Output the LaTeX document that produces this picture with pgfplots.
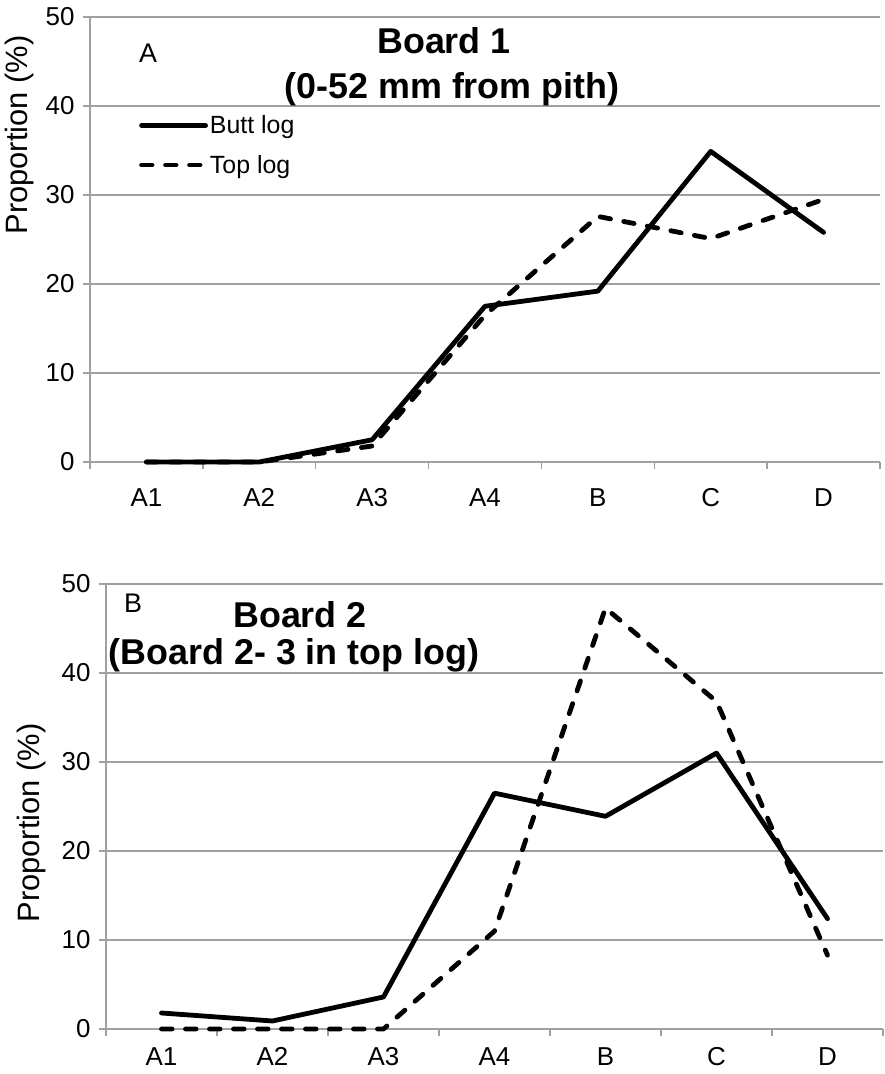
\documentclass[border=0pt]{standalone}
\usepackage{fontspec}
\setmainfont{Liberation Sans}
\usepackage{pgfplots}
\pgfplotsset{compat=1.18}
\definecolor{gridgray}{RGB}{160,160,160}

\pgfplotsset{
  boardaxis/.style={
    scale only axis,
    height=445bp,
    xmin=-0.5, xmax=6.5,
    ymin=0, ymax=50,
    xtick={0,1,2,3,4,5,6},
    xticklabels={A1,A2,A3,A4,B,C,D},
    minor xtick={-0.5,0.5,...,6.5},
    ytick={0,10,20,30,40,50},
    ymajorgrids=true,
    grid style={draw=gridgray, line width=1.3bp},
    axis x line*=bottom,
    axis y line*=left,
    axis line style={draw=gridgray, line width=1.3bp, -},
    tick align=outside,
    major x tick style={draw=none},
    major tick length=7bp,
    minor tick length=7bp,
    every tick/.style={draw=gridgray, line width=1.3bp},
    minor tick style={draw=gridgray, line width=1.3bp},
    /pgf/number format/assume math mode=true,
    tick label style={font=\fontsize{26}{30}\selectfont, text=black},
    xticklabel style={anchor=north, text height=19bp, text depth=0bp, inner sep=2bp},
    yticklabel style={xshift=-5bp},
    label style={font=\fontsize{31}{36}\selectfont},
    clip=false,
  },
  butt/.style={black, line width=4.8bp, line join=round, line cap=round},
  toplog/.style={black, line width=4.8bp, line join=round, line cap=round, dash pattern=on 10.5bp off 13.5bp},
}

\begin{document}
\begin{tikzpicture}
\path (0bp,0bp) rectangle (885bp,-1074bp);

% ---------- Board 1 ----------
\begin{axis}[boardaxis,
  at={(90bp,-462bp)}, anchor=south west,
  width=790bp,
  xticklabel style={yshift=-16bp},
  ylabel={Proportion (\%)},
  ylabel style={at={(axis description cs:-0.0886,0.735)}, anchor=center},
  legend style={draw=none, fill=none, at={(axis description cs:0.062,0.783)}, anchor=north west,
    font=\fontsize{25}{29}\selectfont, row sep=16bp, inner sep=0pt},
  legend cell align=left,
  legend image code/.code={\draw[#1] (0bp,0bp) -- (64bp,0bp);},
]
\addplot[butt] coordinates {(0,0) (1,0) (2,2.5) (3,17.5) (4,19.2) (5,34.9) (6,25.8)};
\addlegendentry{Butt log}
\addplot[toplog] coordinates {(0,0) (1,0) (2,1.8) (3,16.5) (4,27.6) (5,25.1) (6,29.5)};
\addlegendentry{Top log}
\end{axis}

\node[anchor=base, font=\fontsize{27}{31}\selectfont] at (148bp,-62bp) {A};
\node[anchor=base, font=\fontsize{36}{42}\selectfont\bfseries] at (444bp,-53bp) {Board 1};
\node[anchor=base, font=\fontsize{36}{42}\selectfont\bfseries] at (452bp,-98bp) {(0-52 mm from pith)};

% ---------- Board 2 ----------
\begin{axis}[boardaxis,
  at={(106bp,-1029bp)}, anchor=south west,
  width=777bp,
  xticklabel style={yshift=-8bp},
  ylabel={Proportion (\%)},
  ylabel style={at={(axis description cs:-0.0965,0.463)}, anchor=center},
]
\addplot[butt] coordinates {(0,1.8) (1,0.9) (2,3.6) (3,26.5) (4,23.9) (5,31.0) (6,12.4)};
\addplot[toplog] coordinates {(0,0) (1,0) (2,0) (3,11.0) (4,47.3) (5,36.8) (6,8.3)};
\end{axis}

\node[anchor=base, font=\fontsize{27}{31}\selectfont] at (133bp,-612bp) {B};
\node[anchor=base, font=\fontsize{36}{42}\selectfont\bfseries] at (300bp,-627bp) {Board 2};
\node[anchor=base, font=\fontsize{36}{42}\selectfont\bfseries] at (294bp,-664bp) {(Board 2- 3 in top log)};

\end{tikzpicture}
\end{document}
